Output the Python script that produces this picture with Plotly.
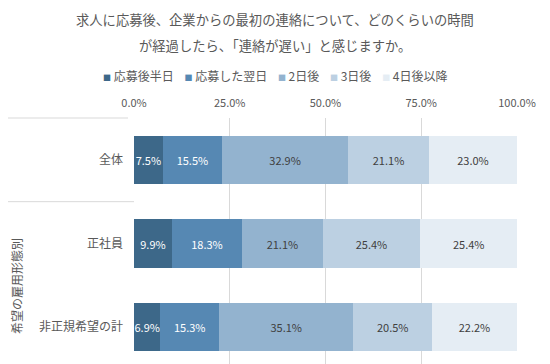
import plotly.graph_objects as go

categories = ["全体", "正社員", "非正規希望の計"]
series_names = ["応募後半日", "応募した翌日", "2日後", "3日後", "4日後以降"]
values = {
    "応募後半日": [7.5, 9.9, 6.9],
    "応募した翌日": [15.5, 18.3, 15.3],
    "2日後": [32.9, 21.1, 35.1],
    "3日後": [21.1, 25.4, 20.5],
    "4日後以降": [23.0, 25.4, 22.2],
}
tick_vals = [0, 25, 50, 75, 100]
tick_text = ["0.0%", "25.0%", "50.0%", "75.0%", "100.0%"]

colors = ["#3D6889", "#5688B3", "#93B3CF", "#BCD0E2", "#E5EDF4"]
text_colors = ["#FFFFFF", "#FFFFFF", "#404040", "#404040", "#404040"]

FONT = "Noto Sans CJK JP"
OFF = 8  # default page body margin
W, H = 550 - OFF, 364 - OFF
ML, MR, MT, MB = 134 - OFF, 33, 118 - OFF, 0
PW = W - ML - MR
PH = H - MT - MB

def px_x(px):
    return (px - OFF - ML) / PW

def px_y(py):
    return (H - MB - (py - OFF)) / PH

fig = go.Figure()
for name, c, tc in zip(series_names, colors, text_colors):
    fig.add_trace(go.Bar(
        y=categories, x=values[name], name=name, orientation="h",
        marker=dict(color=c, line=dict(width=0)),
        texttemplate="%{x:.1f}%", textposition="inside",
        insidetextanchor="middle", textangle=0, constraintext="none",
        textfont=dict(color=tc, size=11, family=FONT),
        hoverinfo="skip", showlegend=False,
    ))

fig.update_layout(
    width=W, height=H, barmode="stack", bargap=0.42,
    margin=dict(l=ML, r=MR, t=MT, b=MB, autoexpand=False),
    paper_bgcolor="white", plot_bgcolor="white",
    font=dict(family=FONT, size=12, color="#595959"),
    showlegend=False,
    xaxis=dict(range=[0, 100], side="top", tickvals=tick_vals, ticktext=tick_text,
               showgrid=True, gridcolor="#D9D9D9", gridwidth=1, zeroline=False,
               showline=False, ticks="", ticklabelstandoff=8, automargin=False,
               tickfont=dict(size=11, color="#595959"), fixedrange=True),
    yaxis=dict(categoryorder="array", categoryarray=categories,
               range=[2.44, -0.5], showgrid=False, zeroline=False,
               showline=False, ticks="", ticklabelstandoff=10, automargin=False,
               tickfont=dict(size=12, color="#595959"), fixedrange=True),
)

# separator lines at left
fig.add_shape(type="line", xref="paper", yref="paper", x0=px_x(8), x1=px_x(128),
              y0=1, y1=1, line=dict(color="#D9D9D9", width=1))
fig.add_shape(type="line", xref="paper", yref="y", x0=px_x(8), x1=0,
              y0=0.5, y1=0.5, line=dict(color="#D9D9D9", width=1))

# title
fig.add_annotation(text="求人に応募後、企業からの最初の連絡について、どのくらいの時間",
                   xref="paper", yref="paper", x=px_x(275), y=px_y(20),
                   xanchor="center", yanchor="middle", showarrow=False,
                   font=dict(size=13.3, color="#595959"))
fig.add_annotation(text="が経過したら、「連絡が遅い」と感じますか。",
                   xref="paper", yref="paper", x=px_x(275), y=px_y(45),
                   xanchor="center", yanchor="middle", showarrow=False,
                   font=dict(size=13.3, color="#595959"))

# legend (drawn as one text row of colored squares + series names)
gap = "\u00a0" * 4
parts = []
for name, c in zip(series_names, colors):
    parts.append(f'<span style="color:{c};font-size:8px">■</span>\u00a0{name}')
fig.add_annotation(text=gap.join(parts), xref="paper", yref="paper",
                   x=px_x(275), y=px_y(75), xanchor="center", yanchor="middle",
                   showarrow=False, font=dict(size=12, color="#595959"))

# group label
fig.add_annotation(text="希望の雇用形態別", xref="paper", yref="paper",
                   x=px_x(16), y=px_y(286), textangle=-90, showarrow=False,
                   xanchor="center", yanchor="middle",
                   font=dict(size=12, color="#595959"))

fig.write_html("out.html")
